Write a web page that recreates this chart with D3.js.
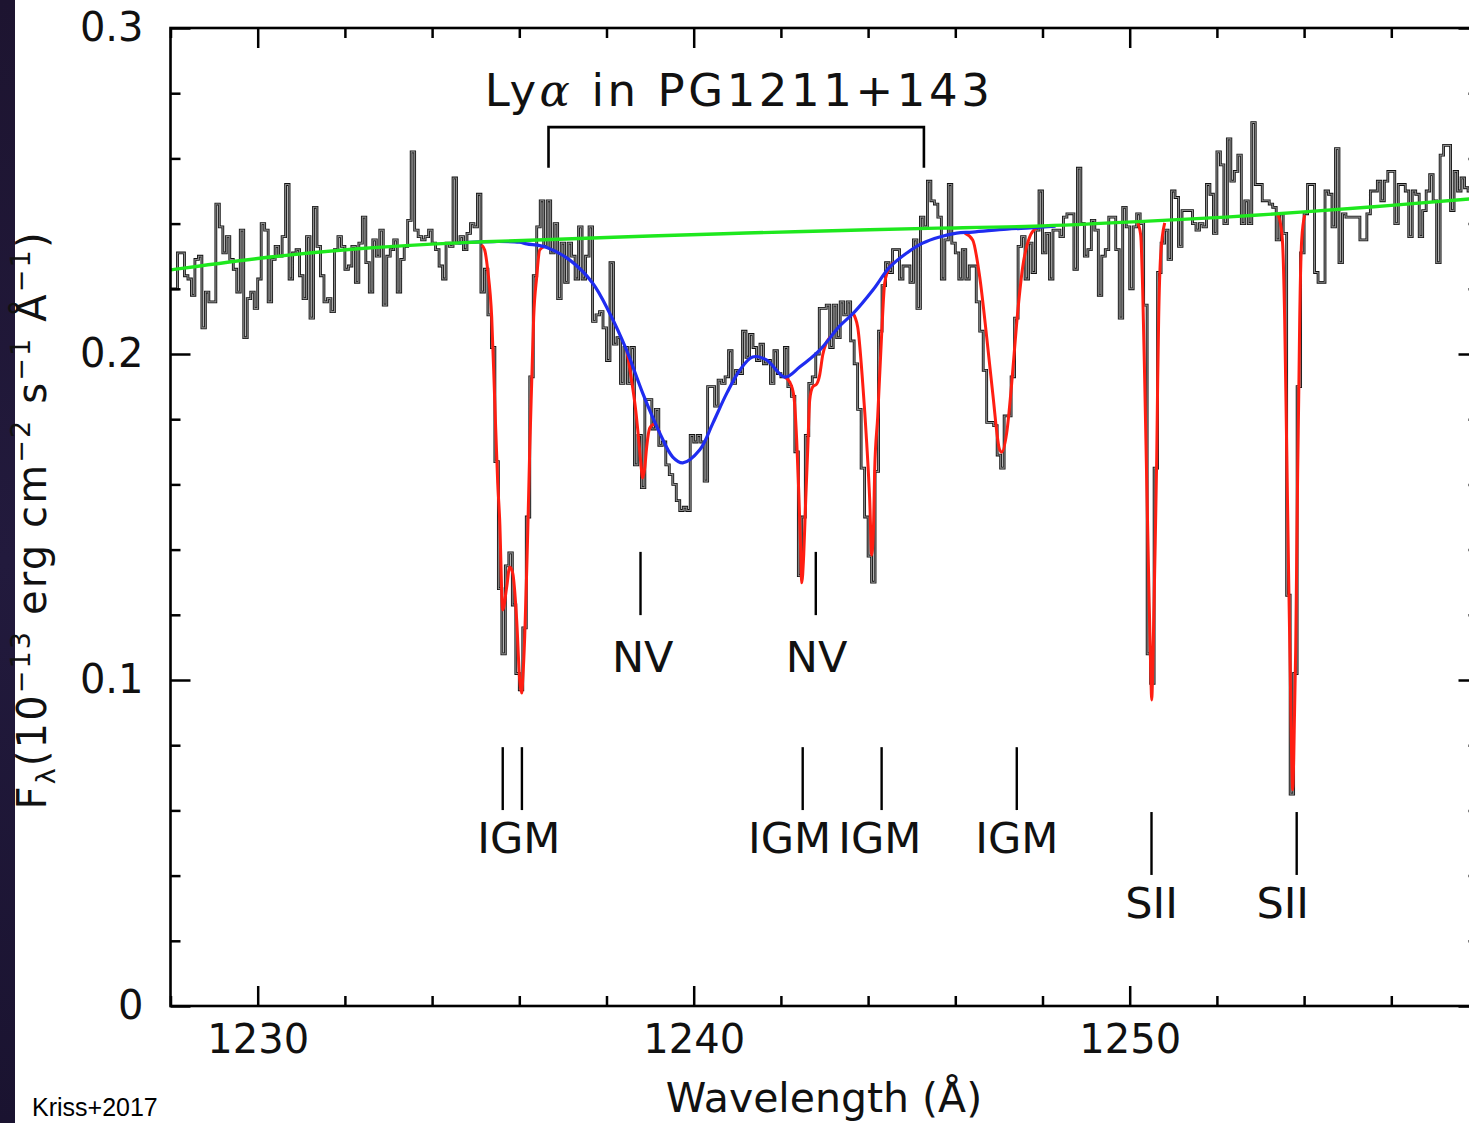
<!DOCTYPE html>
<html>
<head>
<meta charset="utf-8">
<script src="https://cdn.jsdelivr.net/npm/d3@7"></script>
<style>
  html, body { margin: 0; padding: 0; background: #fff; }
  svg { display: block; }
  .axis .domain { display: none; }
  .axis .tick line { stroke: #000; stroke-width: 2.5; }
  .axis .tick text { font-family: "DejaVu Sans", sans-serif; font-size: 40px; fill: #111; }
  .anno { font-family: "DejaVu Sans", sans-serif; fill: #111; }
</style>
</head>
<body>
<svg id="chart" width="1469" height="1123"></svg>
<script>
// binned flux (1e-13 erg/cm2/s/A), bins of 0.08 A starting at 1228.00 A
const binStart = 1228.0;
const binWidth = 0.08;
const flux = [
  0.220, 0.220, 0.231, 0.231, 0.224, 0.223, 0.218, 0.229, 0.230, 0.208,
  0.219, 0.216, 0.216, 0.246, 0.239, 0.231, 0.236, 0.229, 0.226, 0.219,
  0.238, 0.205, 0.217, 0.219, 0.214, 0.223, 0.240, 0.238, 0.216, 0.229,
  0.233, 0.230, 0.236, 0.252, 0.223, 0.231, 0.232, 0.224, 0.217, 0.236,
  0.211, 0.245, 0.233, 0.224, 0.216, 0.217, 0.213, 0.232, 0.236, 0.233,
  0.226, 0.227, 0.233, 0.222, 0.234, 0.242, 0.228, 0.219, 0.235, 0.230,
  0.238, 0.215, 0.230, 0.232, 0.235, 0.219, 0.229, 0.233, 0.241, 0.262,
  0.238, 0.236, 0.235, 0.236, 0.238, 0.234, 0.232, 0.227, 0.223, 0.234,
  0.233, 0.254, 0.234, 0.236, 0.232, 0.237, 0.240, 0.239, 0.249, 0.219,
  0.226, 0.212, 0.202, 0.167, 0.128, 0.108, 0.135, 0.139, 0.123, 0.102,
  0.097, 0.116, 0.150, 0.193, 0.224, 0.239, 0.247, 0.233, 0.247, 0.231,
  0.240, 0.217, 0.234, 0.222, 0.234, 0.230, 0.223, 0.239, 0.223, 0.230,
  0.239, 0.210, 0.212, 0.213, 0.208, 0.198, 0.228, 0.203, 0.205, 0.191,
  0.202, 0.191, 0.202, 0.166, 0.175, 0.159, 0.186, 0.186, 0.177, 0.183,
  0.172, 0.173, 0.166, 0.163, 0.160, 0.155, 0.152, 0.153, 0.152, 0.175,
  0.173, 0.175, 0.173, 0.161, 0.190, 0.190, 0.184, 0.192, 0.191, 0.193,
  0.201, 0.191, 0.195, 0.194, 0.207, 0.199, 0.206, 0.202, 0.198, 0.203,
  0.197, 0.198, 0.191, 0.201, 0.194, 0.193, 0.202, 0.190, 0.187, 0.170,
  0.132, 0.150, 0.175, 0.191, 0.193, 0.200, 0.214, 0.214, 0.215, 0.202,
  0.215, 0.205, 0.216, 0.212, 0.216, 0.204, 0.197, 0.183, 0.165, 0.150,
  0.138, 0.130, 0.164, 0.207, 0.221, 0.228, 0.225, 0.232, 0.232, 0.223,
  0.227, 0.227, 0.222, 0.235, 0.214, 0.242, 0.239, 0.253, 0.247, 0.246,
  0.242, 0.223, 0.235, 0.252, 0.234, 0.231, 0.223, 0.232, 0.223, 0.227,
  0.227, 0.216, 0.207, 0.195, 0.179, 0.179, 0.178, 0.169, 0.165, 0.181,
  0.181, 0.193, 0.211, 0.233, 0.236, 0.223, 0.234, 0.225, 0.238, 0.250,
  0.231, 0.237, 0.223, 0.238, 0.238, 0.236, 0.242, 0.243, 0.243, 0.226,
  0.257, 0.240, 0.230, 0.232, 0.241, 0.238, 0.218, 0.230, 0.232, 0.242,
  0.242, 0.232, 0.211, 0.245, 0.239, 0.220, 0.239, 0.243, 0.240, 0.215,
  0.108, 0.099, 0.165, 0.225, 0.234, 0.238, 0.229, 0.250, 0.248, 0.233,
  0.244, 0.244, 0.244, 0.240, 0.238, 0.240, 0.239, 0.252, 0.249, 0.237,
  0.262, 0.258, 0.240, 0.266, 0.253, 0.256, 0.261, 0.240, 0.247, 0.240,
  0.271, 0.252, 0.252, 0.247, 0.247, 0.246, 0.245, 0.235, 0.243, 0.237,
  0.126, 0.065, 0.102, 0.190, 0.231, 0.243, 0.252, 0.252, 0.225, 0.222,
  0.222, 0.250, 0.249, 0.239, 0.263, 0.228, 0.243, 0.242, 0.242, 0.242,
  0.242, 0.235, 0.235, 0.243, 0.250, 0.250, 0.253, 0.247, 0.253, 0.256,
  0.256, 0.240, 0.252, 0.252, 0.250, 0.236, 0.250, 0.249, 0.236, 0.244,
  0.250, 0.255, 0.247, 0.228, 0.261, 0.264, 0.264, 0.244, 0.256, 0.250,
  0.254, 0.251, 0.250, 0.248, 0.252
];

// continuum fit (green)
const contWave = [1228.0, 1230.0, 1232.3, 1234.6, 1236.9, 1239.0, 1241.2, 1243.4, 1245.6, 1247.8, 1250.2, 1252.2, 1254.0, 1256.0, 1258.0];
const contFlux = [0.2258, 0.2293, 0.2323, 0.2341, 0.2352, 0.2362, 0.2371, 0.2379, 0.2386, 0.2392, 0.2406, 0.2420, 0.2436, 0.2456, 0.2478];

// intrinsic Lya absorption model (blue)
const lyaWave = [1234.6, 1235.4, 1236.0, 1236.17, 1236.63, 1237.16, 1237.68, 1238.07, 1238.46, 1238.83,
  1239.22, 1239.52, 1239.75, 1240.14, 1240.44, 1240.76, 1241.06, 1241.35, 1241.67, 1242.09,
  1242.43, 1242.89, 1243.35, 1243.69, 1244.11, 1244.50, 1244.89, 1245.25, 1245.64, 1246.03,
  1246.40, 1247.18, 1247.71, 1248.3];
const lyaFlux = [0.2341, 0.2345, 0.2343, 0.2338, 0.2327, 0.2288, 0.2218, 0.2126, 0.2012, 0.1880,
  0.1758, 0.1684, 0.1666, 0.1706, 0.1788, 0.1880, 0.1951, 0.1991, 0.1982, 0.1929,
  0.1960, 0.2012, 0.2086, 0.2129, 0.2196, 0.2267, 0.2310, 0.2340, 0.2359, 0.2371,
  0.2374, 0.2383, 0.2387, 0.2392];

// full model with narrow lines (red), one segment per feature
const modelSegments = [
  [[1235.138, 0.2334], [1235.206, 0.2319], [1235.275, 0.2258], [1235.367, 0.2113], [1235.436, 0.1859],
   [1235.505, 0.1604], [1235.550, 0.1491], [1235.619, 0.1215], [1235.711, 0.1285], [1235.780, 0.1347],
   [1235.849, 0.1328], [1235.940, 0.1184], [1236.009, 0.1000], [1236.055, 0.0960], [1236.078, 0.1000],
   [1236.124, 0.1132], [1236.170, 0.1337], [1236.193, 0.1451], [1236.239, 0.1706], [1236.284, 0.1911],
   [1236.330, 0.2113], [1236.399, 0.2236], [1236.468, 0.2319], [1236.583, 0.2330]],
  [[1238.463, 0.2012], [1238.578, 0.1917], [1238.670, 0.1828], [1238.739, 0.1736], [1238.784, 0.1669],
   [1238.830, 0.1620], [1238.876, 0.1650], [1238.922, 0.1715], [1238.991, 0.1773], [1239.106, 0.1785],
   [1239.220, 0.1758]],
  [[1242.087, 0.1929], [1242.202, 0.1914], [1242.294, 0.1874], [1242.362, 0.1736], [1242.408, 0.1583],
   [1242.454, 0.1399], [1242.477, 0.1298], [1242.523, 0.1383], [1242.569, 0.1552], [1242.615, 0.1706],
   [1242.661, 0.1859], [1242.729, 0.1899], [1242.821, 0.1908], [1242.890, 0.1936], [1242.959, 0.1997],
   [1243.050, 0.2037], [1243.165, 0.2055]],
  [[1243.647, 0.2126], [1243.761, 0.2083], [1243.876, 0.1911], [1243.968, 0.1727], [1244.037, 0.1552],
   [1244.083, 0.1383], [1244.128, 0.1491], [1244.151, 0.1644], [1244.220, 0.1807], [1244.312, 0.2064],
   [1244.381, 0.2218], [1244.495, 0.2267], [1244.610, 0.2282]],
  [[1246.216, 0.2371], [1246.399, 0.2350], [1246.560, 0.2236], [1246.720, 0.2052], [1246.858, 0.1880],
   [1247.018, 0.1706], [1247.064, 0.1699], [1247.179, 0.1758], [1247.294, 0.1911], [1247.408, 0.2095],
   [1247.546, 0.2267], [1247.706, 0.2359], [1247.867, 0.2387]],
  [[1250.183, 0.2402], [1250.252, 0.2365], [1250.298, 0.2196], [1250.344, 0.1920], [1250.390, 0.1613],
   [1250.436, 0.1307], [1250.482, 0.1031], [1250.505, 0.0939], [1250.528, 0.1031], [1250.573, 0.1337],
   [1250.619, 0.1675], [1250.642, 0.1920], [1250.665, 0.2113], [1250.711, 0.2304], [1250.803, 0.2402]],
  [[1253.394, 0.2429], [1253.463, 0.2396], [1253.509, 0.2334], [1253.555, 0.2104], [1253.601, 0.1706],
   [1253.647, 0.1307], [1253.693, 0.0939], [1253.716, 0.0755], [1253.739, 0.0663], [1253.761, 0.0755],
   [1253.807, 0.1092], [1253.830, 0.1368], [1253.853, 0.1644], [1253.876, 0.1859], [1253.899, 0.2104],
   [1253.945, 0.2350], [1254.014, 0.2426]]
];

// line identification ticks
const tickWave = [1235.62, 1236.06, 1238.78, 1242.50, 1242.80, 1244.31, 1247.41, 1250.50, 1253.83];
const tickLow  = [0.0601, 0.0601, 0.1199, 0.0601, 0.1199, 0.0601, 0.0601, 0.0402, 0.0402];
const tickHigh = [0.0794, 0.0794, 0.1393, 0.0794, 0.1393, 0.0794, 0.0794, 0.0595, 0.0595];

const labelText = ["IGM", "NV", "NV", "IGM", "IGM", "IGM", "SII", "SII"];
const labelWave = [1235.99, 1238.83, 1242.82, 1242.20, 1244.27, 1247.41, 1250.50, 1253.51];
const labelFlux = [0.0469, 0.1025, 0.1025, 0.0469, 0.0469, 0.0469, 0.0270, 0.0270];

// bracket over the Lya absorber
const bracketWave = [1236.67, 1245.28];
const bracketFlux = [0.2571, 0.2696];

const xMajor = [1230, 1240, 1250];
const xMinor = [1228, 1232, 1234, 1236, 1238, 1242, 1244, 1246, 1248, 1252, 1254, 1256, 1258];
const yMajor = [0, 0.1, 0.2, 0.3];
const yMinor = [0.02, 0.04, 0.06, 0.08, 0.12, 0.14, 0.16, 0.18, 0.22, 0.24, 0.26, 0.28];

const svg = d3.select("#chart");

const x = d3.scaleLinear().domain([1228, 1258]).range([170.5, 1478.5]);
const y = d3.scaleLinear().domain([0, 0.3]).range([1006, 28]);

// dark strip on the left edge of the slide
const grad = svg.append("defs").append("linearGradient")
  .attr("id", "strip").attr("x1", 0).attr("y1", 0).attr("x2", 0).attr("y2", 1);
grad.append("stop").attr("offset", "0%").attr("stop-color", "#1d1430");
grad.append("stop").attr("offset", "50%").attr("stop-color", "#221a3d");
grad.append("stop").attr("offset", "100%").attr("stop-color", "#1a1330");
svg.append("rect").attr("x", 0).attr("y", 0).attr("width", 15).attr("height", 1123)
  .attr("fill", "url(#strip)");

svg.select("defs").append("clipPath").attr("id", "plotclip")
  .append("rect").attr("x", 170.5).attr("y", 28).attr("width", 1308).attr("height", 978);

const plot = svg.append("g").attr("clip-path", "url(#plotclip)");

// histogram of the data: gray line with a dark edge
const steps = flux.map((f, i) => [binStart + i * binWidth, f]);
steps.push([binStart + flux.length * binWidth, flux[flux.length - 1]]);
const stepLine = d3.line()
  .x(d => x(d[0])).y(d => y(d[1]))
  .curve(d3.curveStepAfter);

plot.append("path").attr("d", stepLine(steps))
  .attr("fill", "none").attr("stroke", "#111").attr("stroke-width", 2.8);
plot.append("path").attr("d", stepLine(steps))
  .attr("fill", "none").attr("stroke", "#8c8c8c").attr("stroke-width", 1.1);

// red model segments
const smooth = d3.line().x(d => x(d[0])).y(d => y(d[1])).curve(d3.curveMonotoneX);
plot.selectAll(".model").data(modelSegments).enter().append("path")
  .attr("class", "model")
  .attr("d", d => smooth(d))
  .attr("fill", "none").attr("stroke", "#ff1e12").attr("stroke-width", 3);

// blue Lya absorber
const lyaPts = lyaWave.map((w, i) => [w, lyaFlux[i]]);
plot.append("path")
  .attr("d", d3.line().x(d => x(d[0])).y(d => y(d[1])).curve(d3.curveCatmullRom)(lyaPts))
  .attr("fill", "none").attr("stroke", "#1f2cf0").attr("stroke-width", 3.2);

// green continuum
const contPts = contWave.map((w, i) => [w, contFlux[i]]);
plot.append("path")
  .attr("d", d3.line().x(d => x(d[0])).y(d => y(d[1])).curve(d3.curveNatural)(contPts))
  .attr("fill", "none").attr("stroke", "#1ee81e").attr("stroke-width", 3.4);

// axes, ticks inward on all four sides
svg.append("g").attr("class", "axis").attr("transform", `translate(0,${y(0)})`)
  .call(d3.axisBottom(x).tickValues(xMajor).tickSizeInner(-20).tickSizeOuter(0)
    .tickPadding(19).tickFormat(d3.format("d")));
svg.append("g").attr("class", "axis").attr("transform", `translate(0,${y(0)})`)
  .call(d3.axisBottom(x).tickValues(xMinor).tickSizeInner(-10).tickSizeOuter(0).tickFormat(""));

svg.append("g").attr("class", "axis").attr("transform", `translate(0,${y(0.3)})`)
  .call(d3.axisTop(x).tickValues(xMajor).tickSizeInner(-20).tickSizeOuter(0).tickFormat(""));
svg.append("g").attr("class", "axis").attr("transform", `translate(0,${y(0.3)})`)
  .call(d3.axisTop(x).tickValues(xMinor).tickSizeInner(-10).tickSizeOuter(0).tickFormat(""));

svg.append("g").attr("class", "axis").attr("transform", `translate(${x(1228)},0)`)
  .call(d3.axisLeft(y).tickValues(yMajor).tickSizeInner(-20).tickSizeOuter(0)
    .tickPadding(27).tickFormat(d => d === 0 ? "0" : d.toFixed(1)));
svg.append("g").attr("class", "axis").attr("transform", `translate(${x(1228)},0)`)
  .call(d3.axisLeft(y).tickValues(yMinor).tickSizeInner(-10).tickSizeOuter(0).tickFormat(""));

svg.append("g").attr("class", "axis").attr("transform", `translate(${x(1258)},0)`)
  .call(d3.axisRight(y).tickValues(yMajor).tickSizeInner(-20).tickSizeOuter(0).tickFormat(""));
svg.append("g").attr("class", "axis").attr("transform", `translate(${x(1258)},0)`)
  .call(d3.axisRight(y).tickValues(yMinor).tickSizeInner(-10).tickSizeOuter(0).tickFormat(""));

// frame
svg.append("rect")
  .attr("x", x(1228)).attr("y", y(0.3))
  .attr("width", x(1258) - x(1228)).attr("height", y(0) - y(0.3))
  .attr("fill", "none").attr("stroke", "#000").attr("stroke-width", 2.6);

// line identifications
svg.selectAll(".idtick").data(tickWave).enter().append("line")
  .attr("class", "idtick")
  .attr("x1", d => x(d)).attr("x2", d => x(d))
  .attr("y1", (d, i) => y(tickLow[i])).attr("y2", (d, i) => y(tickHigh[i]))
  .attr("stroke", "#000").attr("stroke-width", 2.4);

svg.selectAll(".idlabel").data(labelText).enter().append("text")
  .attr("class", "anno idlabel")
  .attr("x", (d, i) => x(labelWave[i])).attr("y", (d, i) => y(labelFlux[i]))
  .attr("text-anchor", "middle").attr("font-size", 43)
  .text(d => d);

// bracket and title
svg.append("path")
  .attr("d", `M${x(bracketWave[0])},${y(bracketFlux[0])}V${y(bracketFlux[1])}H${x(bracketWave[1])}V${y(bracketFlux[0])}`)
  .attr("fill", "none").attr("stroke", "#000").attr("stroke-width", 2.6);

const title = svg.append("text").attr("class", "anno")
  .attr("x", x(1235.21)).attr("y", y(0.2761))
  .attr("font-size", 45)
  .attr("textLength", 505).attr("lengthAdjust", "spacing");
title.append("tspan").text("Ly");
title.append("tspan").attr("font-style", "italic").attr("font-family", "'DejaVu Serif', serif").text("α");
title.append("tspan").text(" in PG1211+143");

// axis titles
svg.append("text").attr("class", "anno")
  .attr("x", 824).attr("y", 1112)
  .attr("text-anchor", "middle").attr("font-size", 41)
  .text("Wavelength (Å)");

const ylab = svg.append("text").attr("class", "anno")
  .attr("transform", "translate(46,521) rotate(-90)")
  .attr("text-anchor", "middle").attr("font-size", 40)
  .attr("textLength", 577).attr("lengthAdjust", "spacing");
const yParts = [
  { t: "F", dy: 0 },
  { t: "λ", dy: 9, size: 27 },
  { t: "(10", dy: -9 },
  { t: "−13", dy: -16, size: 27 },
  { t: " erg cm", dy: 16 },
  { t: "−2", dy: -16, size: 27 },
  { t: " s", dy: 16 },
  { t: "−1", dy: -16, size: 27 },
  { t: " Å", dy: 16 },
  { t: "−1", dy: -16, size: 27 },
  { t: ")", dy: 16 }
];
yParts.forEach(p => {
  const ts = ylab.append("tspan").attr("dy", p.dy).text(p.t);
  if (p.size) ts.attr("font-size", p.size);
});

svg.append("text")
  .attr("x", 32).attr("y", 1116)
  .attr("font-family", "'Liberation Sans', Arial, sans-serif")
  .attr("font-size", 25).attr("fill", "#000")
  .text("Kriss+2017");
</script>
</body>
</html>
